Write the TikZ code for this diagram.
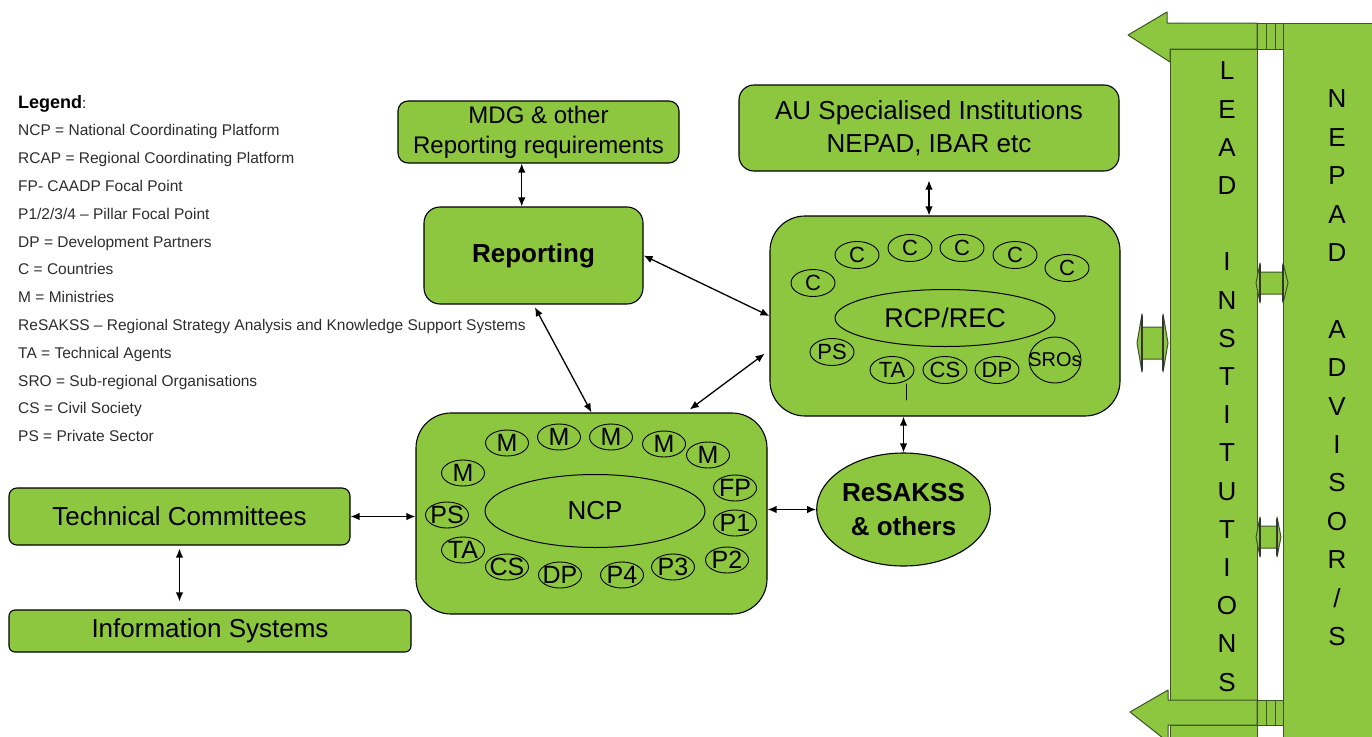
\documentclass[tikz,border=0pt]{standalone}
\usepackage{fontspec}
\setmainfont{Liberation Sans}
\usetikzlibrary{shapes.geometric,arrows.meta,calc}
\definecolor{leaf}{RGB}{141,198,63}
\definecolor{bark}{RGB}{62,84,40}
\definecolor{legendgray}{RGB}{45,45,45}

\begin{document}
\begin{tikzpicture}[x=1pt,y=-1pt,line cap=round,line join=round,
    >={Latex[length=9pt,width=7.5pt]},
    box/.style={draw=black,fill=leaf,line width=1.1pt,rounded corners=#1,inner sep=0pt,align=center},
    box/.default=10pt,
    conn/.style={<->,line width=1.3pt},
    core/.style={draw=black,ellipse,line width=1pt,inner sep=0pt},
    sm/.style={draw=black,ellipse,line width=0.9pt,inner sep=0pt,minimum width=43pt,minimum height=26pt,
      font=\fontsize{25}{25}\selectfont},
    smr/.style={sm,minimum width=44pt,minimum height=27pt,font=\fontsize{22}{22}\selectfont},
    legtxt/.style={anchor=base west,inner sep=0pt,text=legendgray,font=\fontsize{15.5}{18}\selectfont},
    colchar/.style={inner sep=0pt,font=\fontsize{26}{26}\selectfont},
    column/.style={fill=leaf,draw=bark,line width=1pt},
    headback/.style={draw=black!80,line width=2pt}]
  \useasboundingbox (0,0) rectangle (1372,736);
  \clip (0,0) rectangle (1372,736);

  % right-hand columns
  \draw[column] (1283,23) rectangle (1390,750);
  \draw[column] (1170,49) rectangle (1257,700);
  \draw[column] (1170,725) rectangle (1257,750);
  \draw[column] (1128,35) -- (1167,12) -- (1167,23) -- (1257,23) -- (1257,49) -- (1170,49) -- (1170,62) -- cycle;
  \draw[column] (1130,712) -- (1168,690) -- (1168,700) -- (1257,700) -- (1257,725) -- (1168,725) -- (1168,742) -- cycle;
  \draw[column] (1257,23) rectangle (1266,49);
  \draw[column] (1266,23) rectangle (1275,49);
  \draw[column] (1275,23) rectangle (1283,49);
  \draw[column] (1257,700) rectangle (1266,725);
  \draw[column] (1266,700) rectangle (1275,725);
  \draw[column] (1275,700) rectangle (1283,725);

  \draw[column] (1137,343) -- (1142,314) -- (1142,327) -- (1163,327) -- (1163,314) -- (1168,343)
    -- (1163,372) -- (1163,359) -- (1142,359) -- (1142,372) -- cycle;
  \draw[headback] (1142,316) -- (1142,370) (1163,316) -- (1163,370);
  \draw[column] (1256,283) -- (1260,263) -- (1260,272) -- (1283,272) -- (1283,263) -- (1288,283)
    -- (1283,303) -- (1283,294) -- (1260,294) -- (1260,303) -- cycle;
  \draw[headback] (1260,265) -- (1260,301) (1283,265) -- (1283,301);
  \draw[column] (1256,537) -- (1260,517) -- (1260,526) -- (1277,526) -- (1277,517) -- (1281,537)
    -- (1277,557) -- (1277,548) -- (1260,548) -- (1260,557) -- cycle;
  \draw[headback] (1260,519) -- (1260,555) (1277,519) -- (1277,555);

  \foreach \ch [count=\i from 0] in {L,E,A,D,{},I,N,S,T,I,T,U,T,I,O,N,S}
    \node[colchar] (lead\i) at (1227,71+38.2*\i) {\ch};
  \foreach \ch [count=\i from 0] in {N,E,P,A,D,{},A,D,V,I,S,O,R,/,S}
    \node[colchar] (nepad\i) at (1337,99+38.4*\i) {\ch};

  % legend
  \node[anchor=base west,inner sep=0pt,font=\bfseries\fontsize{18}{20}\selectfont] (legtitle) at (18,108)
    {Legend\mdseries\fontsize{15}{18}\selectfont:};
  \foreach \lbl [count=\i] in {NCP = National Coordinating Platform, RCAP = Regional Coordinating Platform,
      FP- CAADP Focal Point, {P1/2/3/4 -- Pillar Focal Point}, DP = Development Partners, C = Countries,
      M = Ministries, ReSAKSS -- Regional Strategy Analysis and Knowledge Support Systems,
      TA = Technical Agents, SRO = Sub-regional Organisations, CS = Civil Society, PS = Private Sector}
    \node[legtxt] (leg\i) at (18,108+27.8*\i) {\lbl};

  % boxes
  \node[box=10pt,minimum width=281pt,minimum height=62pt,font=\fontsize{24}{30}\selectfont] (mdg)
    at (538.5,132) {MDG \& other\\Reporting requirements};
  \node[box=16pt,minimum width=219pt,minimum height=97pt,font=\bfseries\fontsize{26}{30}\selectfont] (rep)
    at (533.5,255.5) {Reporting};
  \node[box=15pt,minimum width=380pt,minimum height=86pt,font=\fontsize{26}{33}\selectfont] (au)
    at (929,128) {AU Specialised Institutions\\NEPAD, IBAR etc};
  \node[box=35pt,minimum width=350pt,minimum height=200pt] (rcp) at (945,316) {};
  \node[box=35pt,minimum width=351pt,minimum height=201pt] (ncp) at (591.5,513.5) {};
  \node[draw=black,fill=leaf,line width=1.1pt,ellipse,inner sep=0pt,minimum width=153pt,minimum height=113pt,
    align=center,font=\bfseries\fontsize{26}{34}\selectfont] (resakss) at (903.5,509.5) {ReSAKSS\\\& others};
  \node[box=8pt,minimum width=341pt,minimum height=57pt,font=\fontsize{26}{30}\selectfont] (tc)
    at (179.5,516.5) {Technical Committees};
  \node[box=6pt,minimum width=402pt,minimum height=42pt,font=\fontsize{26}{30}\selectfont] (is)
    at (210,631) {Information Systems};

  % inside the NCP
  \node[core,minimum width=220pt,minimum height=73pt,font=\fontsize{26}{26}\selectfont] (ncpcore)
    at (595,511) {NCP};
  \foreach \x/\y/\lbl [count=\i] in {463/473/M,507/443/M,559/437/M,611/437/M,664/444/M,708/455/M,
      735/488/FP,735/523/P1,727/560/P2,673/567/P3,622/575/P4,560/575/DP,507/567/CS,463/550/TA,447/515/PS}
    \node[sm] (nm\i) at (\x,\y) {\makebox[0pt]{\lbl}};

  % inside the RCP
  \node[core,minimum width=220pt,minimum height=57pt,font=\fontsize{27}{27}\selectfont] (rcpcore)
    at (945,318) {RCP/REC};
  \foreach \x/\y/\lbl [count=\i] in {813/283/C,857/255/C,910/248/C,962/248/C,1015/255/C,1067/268/C,
      832/352/PS,892/370/TA,945/370/CS,997/370/DP}
    \node[smr] (rm\i) at (\x,\y) {\makebox[0pt]{\lbl}};
  \node[sm,minimum width=52pt,minimum height=46pt,font=\fontsize{20}{20}\selectfont] (sros)
    at (1055,360) {\makebox[0pt]{SROs}};
  \coordinate (tastub) at (906,400);
  \draw[line width=0.9pt] (rm8.south -| tastub) -- (tastub);

  % connectors
  \draw[conn] (mdg.242) -- (mdg.242 |- rep.north);
  \draw[conn,shorten <=9pt] (au.south) -- (au.south |- rcp.north);
  \draw[conn] (rep.east) -- (rcp.west);
  \draw[conn,shorten <=3pt] (rep.south) -- (ncp.north);
  \draw[conn,shorten <=5pt,shorten >=6pt] (ncp.47) -- (rcp.191);
  \draw[conn] (resakss.north) -- (resakss.north |- rcp.south);
  \draw[conn] (resakss.west) -- (resakss.west -| ncp.east);
  \draw[conn] (tc.east) -- (tc.east -| ncp.west);
  \draw[conn,shorten <=3pt,shorten >=8pt] (tc.south) -- (tc.south |- is.north);
\end{tikzpicture}
\end{document}
